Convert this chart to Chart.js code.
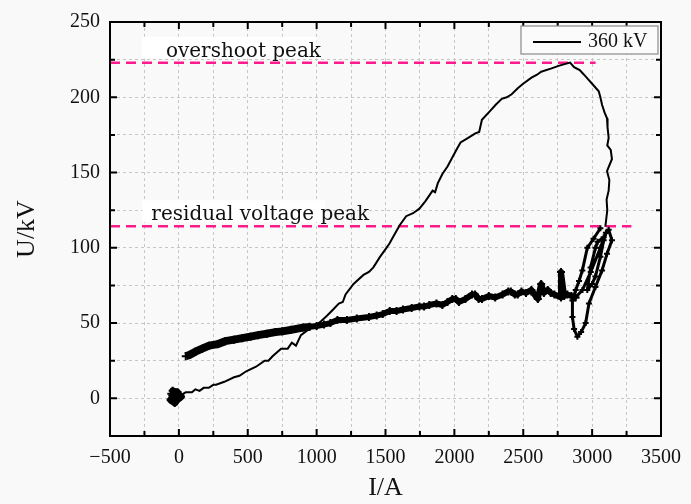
<!DOCTYPE html>
<html>
<head>
<meta charset="utf-8">
<script src="https://cdn.jsdelivr.net/npm/chart.js@4.4.0/dist/chart.umd.min.js"></script>
<style>
  html, body { margin: 0; padding: 0; background: #f9f9f9; }
  #wrap { width: 691px; height: 504px; }
</style>
</head>
<body>
<div id="wrap"><canvas id="ui"></canvas></div>
<script>
// U-I curve at 360 kV (I in A, U in kV)
// rising branch, overshoot peak and the steep descent
const riseCurrent = [10, 50, 95, 120, 150, 180, 217, 250, 270, 330, 400, 440, 489, 560, 623, 650, 680, 742, 790, 820,
  850, 886, 930, 982, 1030, 1077, 1120, 1161, 1190, 1210, 1268, 1340, 1380, 1412, 1460, 1507, 1530, 1560, 1603, 1650,
  1700, 1746, 1790, 1842, 1860, 1880, 1913, 1950, 1985, 2020, 2045, 2100, 2152, 2180, 2200, 2260, 2300, 2344, 2380,
  2416, 2460, 2499, 2560, 2600, 2630, 2700, 2762, 2800, 2840, 2869, 2910, 2941, 2970, 3000, 3048, 3060, 3072, 3090,
  3108, 3112, 3120, 3110, 3135, 3144, 3108, 3125, 3120, 3105, 3110, 3096];
const riseVoltage = [2, 4, 4, 6, 5, 7, 7, 9, 9, 11, 14, 15, 18, 21, 25, 25, 28, 33, 33, 37,
  35, 42, 45, 48, 51, 55, 59, 63, 64, 69, 76, 82, 84, 87, 94, 100, 103, 108, 115, 121,
  123, 126, 131, 138, 137, 143, 149, 154, 160, 166, 170, 173, 176, 177, 185, 191, 195, 199, 200,
  202, 206, 209, 213, 215, 217, 219, 221, 222, 223, 220, 218, 215, 212, 209, 204, 200, 195, 190,
  186, 180, 173, 168, 165, 159, 151, 145, 138, 132, 125, 114];

// the double loop at the high current end
const loopCurrent = [3060, 3010, 2965, 2929, 2905, 2881, 2857, 2857, 2869, 2893, 2920, 2953, 2977, 3024, 3072, 3108,
  3144, 3120, 3084, 3040, 3024, 2989, 2965, 3000, 3024, 3060, 3084, 3100, 3060, 2990, 2930, 2880];
const loopVoltage = [113, 106, 100, 85, 78, 72, 65, 54, 46, 41, 44, 50, 63, 74, 85, 96,
  105, 112, 107, 104, 100, 87, 72, 76, 81, 94, 105, 110, 100, 84, 72, 67];

// thick, noisy return branch
const bandCurrent = [2880, 2850, 2820, 2797, 2774, 2774, 2726, 2700, 2678, 2650, 2630, 2615, 2606, 2580, 2559,
  2520, 2487, 2460, 2439, 2410, 2391, 2350, 2296, 2250, 2200, 2176, 2150, 2128, 2080, 2033, 2010, 1985, 1950, 1913, 1870,
  1818, 1780, 1746, 1690, 1627, 1580, 1531, 1480, 1436, 1380, 1292, 1220, 1151, 1100, 1053, 1000, 950, 900, 814, 750, 700,
  640, 575, 520, 460, 400, 336, 280, 220, 169, 120, 80, 50];
const bandVoltage = [67, 68, 69, 68, 84, 67, 69, 70, 72, 70, 76, 70, 66, 69, 72,
  70, 71, 69, 69, 71, 71, 69, 67, 68, 66, 66, 69, 69, 66, 64, 66, 66, 64, 62, 63,
  62, 61, 61, 60, 59, 58, 58, 56, 55, 54, 53, 52, 52, 50, 49, 48, 47.5, 47, 45.5, 44.5, 44,
  43, 42, 41, 40, 39, 38, 36, 35, 33, 31, 29, 28];

// blob at the origin
const startCurrent = [-55, -30, -60, -10, -45, 15, -25, 5, 10];
const startVoltage = [3, -3, -1, 4, 5, 1, -2, 2, 2];

const overshootPeak = 223;
const residualPeak = 114.3;
const overshootEnd = 3025;
const residualEnd = 3285;

const xTicks = [-500, 0, 500, 1000, 1500, 2000, 2500, 3000, 3500];
const yTicks = [0, 50, 100, 150, 200, 250];

const toPoints = (xs, ys) => xs.map((x, i) => ({ x: x, y: ys[i] }));

const serif = "'Liberation Serif', 'Times New Roman', serif";

// frame, inward ticks, legend box and the two peak labels
const decorations = {
  id: "decorations",
  beforeDraw(chart) {
    const ctx = chart.ctx;
    ctx.save();
    ctx.fillStyle = "#f9f9f9";
    ctx.fillRect(0, 0, chart.width, chart.height);
    ctx.restore();
  },
  afterDraw(chart) {
    const ctx = chart.ctx;
    const a = chart.chartArea;
    const xs = chart.scales.x;
    const ys = chart.scales.y;
    ctx.save();
    ctx.setLineDash([]);

    // inward ticks on all four sides
    ctx.strokeStyle = "#000";
    ctx.lineWidth = 2;
    for (let v = -500; v <= 3500; v += 250) {
      const px = xs.getPixelForValue(v);
      const len = v % 500 === 0 ? 7 : 5;
      ctx.beginPath();
      ctx.moveTo(px, a.bottom); ctx.lineTo(px, a.bottom - len);
      ctx.moveTo(px, a.top); ctx.lineTo(px, a.top + len);
      ctx.stroke();
    }
    for (let v = 0; v <= 250; v += 25) {
      const py = ys.getPixelForValue(v);
      const len = v % 50 === 0 ? 7 : 5;
      ctx.beginPath();
      ctx.moveTo(a.left, py); ctx.lineTo(a.left + len, py);
      ctx.moveTo(a.right, py); ctx.lineTo(a.right - len, py);
      ctx.stroke();
    }
    ctx.strokeRect(a.left, a.top, a.right - a.left, a.bottom - a.top);

    // peak labels
    ctx.font = "20px 'DejaVu Serif', serif";
    ctx.textBaseline = "alphabetic";
    const labels = [
      { text: "overshoot peak", x: -94, y: overshootPeak, box: [-270, 1000] },
      { text: "residual voltage peak", x: -200, y: residualPeak, box: [-265, 1060] }
    ];
    labels.forEach(l => {
      const py = ys.getPixelForValue(l.y);
      const bx0 = xs.getPixelForValue(l.box[0]);
      const bx1 = xs.getPixelForValue(l.box[1]);
      ctx.fillStyle = "#ffffff";
      ctx.fillRect(bx0, py - 26, bx1 - bx0, 22);
      ctx.fillStyle = "#111";
      ctx.fillText(l.text, xs.getPixelForValue(l.x), py - 6);
    });

    // legend
    const lx = a.right - 140, ly = a.top + 4;
    ctx.fillStyle = "#fbfbfb";
    ctx.fillRect(lx, ly, 137, 28);
    ctx.strokeStyle = "#8a8a8a";
    ctx.lineWidth = 1.2;
    ctx.strokeRect(lx, ly, 137, 28);
    ctx.strokeStyle = "#000";
    ctx.lineWidth = 2;
    ctx.beginPath();
    ctx.moveTo(lx + 12, ly + 16); ctx.lineTo(lx + 60, ly + 16);
    ctx.stroke();
    ctx.fillStyle = "#111";
    ctx.font = "20px " + serif;
    ctx.textBaseline = "middle";
    ctx.fillText(chart.data.datasets[0].label, lx + 67, ly + 16);
    ctx.restore();
  }
};

const gridOpts = { color: "#c6c6c6", drawTicks: false, lineWidth: 1 };

new Chart(document.getElementById("ui"), {
  type: "line",
  data: {
    datasets: [
      {
        label: "360 kV",
        data: toPoints(riseCurrent, riseVoltage),
        borderColor: "#000",
        borderWidth: 2,
        pointRadius: 0,
        tension: 0
      },
      {
        label: "loop",
        data: toPoints(loopCurrent, loopVoltage),
        borderColor: "#000",
        backgroundColor: "#000",
        borderWidth: 3,
        borderJoinStyle: "round",
        pointStyle: "cross",
        pointRadius: 3,
        pointBorderWidth: 2,
        tension: 0
      },
      {
        label: "band",
        data: toPoints(bandCurrent, bandVoltage),
        borderColor: "#000",
        backgroundColor: "#000",
        borderWidth: 6,
        borderJoinStyle: "round",
        segment: { borderWidth: c => c.p0.parsed.x < 1000 ? 8 : 6 },
        pointStyle: "cross",
        pointRadius: 4,
        pointBorderWidth: 2,
        tension: 0
      },
      {
        label: "start",
        data: toPoints(startCurrent, startVoltage),
        borderColor: "#000",
        backgroundColor: "#000",
        borderWidth: 7,
        borderJoinStyle: "round",
        pointStyle: "cross",
        pointRadius: 4,
        pointBorderWidth: 2,
        tension: 0
      },
      {
        label: "overshoot",
        data: toPoints([-500, overshootEnd], [overshootPeak, overshootPeak]),
        borderColor: "#ff1a8c",
        borderWidth: 2.5,
        borderDash: [10, 6],
        pointRadius: 0
      },
      {
        label: "residual",
        data: toPoints([-500, residualEnd], [residualPeak, residualPeak]),
        borderColor: "#ff1a8c",
        borderWidth: 2.5,
        borderDash: [10, 6],
        pointRadius: 0
      }
    ]
  },
  options: {
    responsive: true,
    maintainAspectRatio: false,
    animation: false,
    layout: { padding: { top: 20, right: 23, left: 0, bottom: 0 } },
    plugins: {
      legend: { display: false },
      tooltip: { enabled: false }
    },
    scales: {
      x: {
        type: "linear",
        min: -500,
        max: 3500,
        afterFit: s => { s.height = 68; },
        border: { color: "#000", width: 2, dash: [3, 3] },
        grid: gridOpts,
        ticks: {
          stepSize: 250,
          autoSkip: false,
          maxRotation: 0,
          padding: 10,
          color: "#111",
          font: { family: serif, size: 20 },
          callback: v => xTicks.includes(v) ? String(v).replace("-", "\u2212") : ""
        },
        title: {
          display: true,
          text: "I/A",
          color: "#111",
          font: { family: serif, size: 26 },
          padding: { top: 0, bottom: 0 }
        }
      },
      y: {
        type: "linear",
        min: -25,
        max: 250,
        afterFit: s => { s.width = 110; },
        border: { color: "#000", width: 2, dash: [3, 3] },
        grid: gridOpts,
        ticks: {
          stepSize: 25,
          autoSkip: false,
          padding: 10,
          color: "#111",
          font: { family: serif, size: 20 },
          callback: v => yTicks.includes(v) ? String(v) : ""
        },
        title: {
          display: true,
          text: "U/kV",
          color: "#111",
          font: { family: serif, size: 26 },
          padding: { top: 12, bottom: 0 }
        }
      }
    }
  },
  plugins: [decorations]
});
</script>
</body>
</html>
